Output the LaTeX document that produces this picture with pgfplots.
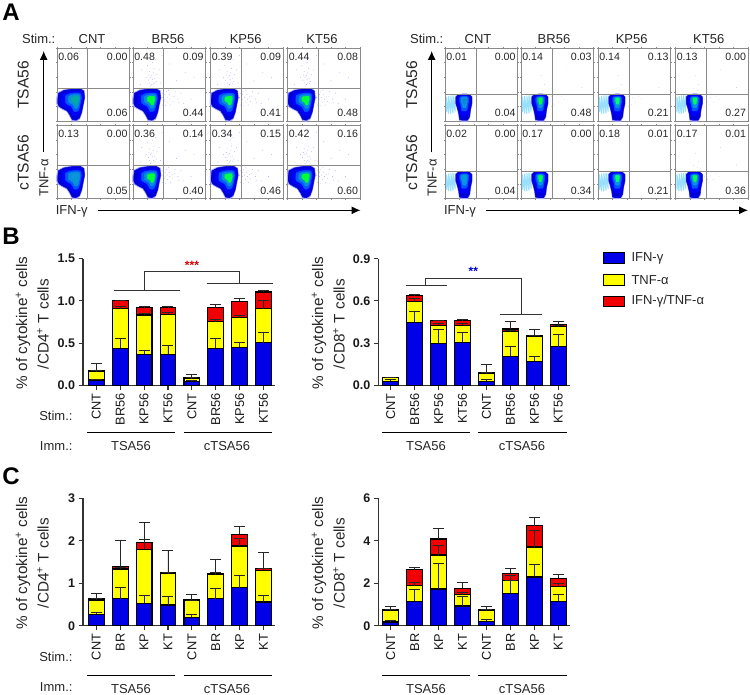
\documentclass[border=0pt]{standalone}
\usepackage{fontspec}
\setmainfont{Liberation Sans}
\usepackage{pgfplots}
\usepackage{pgfplotstable}
\usetikzlibrary{arrows.meta}
\pgfplotsset{compat=1.18}

\definecolor{barblue}{HTML}{0000E8}
\definecolor{baryellow}{HTML}{FFFF00}
\definecolor{barred}{HTML}{F00000}
\definecolor{axgray}{HTML}{333333}
\definecolor{flowgray}{HTML}{8A8A8A}

% cumulative bar tops (b,y,r) and error bar tops (be,ye,re)
\pgfplotstableread{
x b y r be ye re
0 .063 .170 .175 .075 .175 .257
1 .440 .910 1.00 .557 .930 1.01
2 .367 .833 .920 .415 .853 .940
3 .367 .840 .920 .478 .865 .940
4 .043 .083 .090 .060 .088 .130
5 .440 .754 .920 .557 .786 .963
6 .450 .800 .995 .505 .833 1.03
7 .505 .908 1.105 .632 1.01 1.12
}\tblBa
\pgfplotstableread{
x b y r be ye re
0 .030 .054 .057 .040 .057 .059
1 .449 .595 .638 .527 .617 .643
2 .298 .428 .458 .400 .437 .461
3 .305 .428 .458 .378 .440 .465
4 .030 .087 .090 .040 .089 .151
5 .208 .380 .400 .279 .392 .456
6 .170 .347 .357 .208 .352 .400
7 .274 .418 .430 .361 .425 .454
}\tblBb
\pgfplotstableread{
x b y r be ye re
0 .267 .605 .644 .322 .636 .754
1 .636 1.335 1.39 .911 1.375 2.00
2 .526 1.80 1.97 .707 2.02 2.435
3 .487 1.225 1.25 .691 1.257 1.767
4 .204 .589 .605 .259 .597 .730
5 .636 1.20 1.233 .880 1.25 1.57
6 .895 1.877 2.152 1.194 2.058 2.34
7 .558 1.304 1.35 .715 1.36 1.736
}\tblCa
\pgfplotstableread{
x b y r be ye re
0 .173 .707 .738 .236 .770 .927
1 1.147 1.885 2.64 1.712 2.03 2.75
2 1.728 3.33 4.083 2.937 3.80 4.586
3 .927 1.46 1.76 1.366 1.555 2.04
4 .204 .707 .738 .283 .754 .927
5 1.523 2.136 2.48 2.136 2.356 2.717
6 2.293 3.707 4.712 2.874 4.508 5.09
7 1.147 1.853 2.23 1.49 1.98 2.42
}\tblCb

% density contours of the flow plots
\pgfplotstableread{
x y
1 30
2 38
10 42
22 44
32 44
37 41
38 32
36 22
34 12
31 4
26 1
21 2
18 8
14 14
8 17
3 20
1 24
}\contourA
\pgfplotstableread{
x y
15 24
15 33
18 36
26 37
33 36.5
37 33
37 24
35 15
34 6
31 1
24 1
20 2
19 10
17 18
}\contourB
% sparse events, CD4 panels
\pgfplotstableread{
x y
24 48
28 52
21 56
30 58
26 62
33 64
23 68
29 72
20 76
27 80
31 84
25 88
18 60
36 70
42 44
46 40
50 36
44 30
54 33
48 26
58 40
62 30
41 22
52 22
66 38
70 24
60 55
72 66
50 78
84 60
80 30
12 70
10 50
40 90
90 85
26 50
23 52
30 51
27 57
24 60
28 66
32 54
22 63
41 38
44 36
47 32
43 27
51 30
45 21
55 27
40 32
57 34
49 42
63 25
38 52
}\eventsA
% sparse events, CD8 panels
\pgfplotstableread{
x y
40 30
44 26
48 32
52 26
42 20
56 34
60 30
25 45
32 50
28 62
62 70
84 46
14 85
42 34
46 22
30 42
}\eventsB

\newcommand{\fs}[1]{\fontsize{#1bp}{#1bp}\selectfont}

\newcommand{\contourlayer}[5]{% table, cx, scale, shift, colour
  \addplot[fill=#5,draw=#5,line width=.4pt,line join=round,forget plot]
    table[x expr={#2+#4+#3*(\thisrow{x}-#2)},y expr={30+#3*(\thisrow{y}-30)}]{#1} -- cycle;
}

\newcommand{\flowbase}[2]{% x, y
\begin{axis}[at={(#1bp,-#2bp)},anchor=north west,width=72.5bp,height=73bp,scale only axis,
  xmin=0,xmax=100,ymin=0,ymax=100,clip=false,
  axis line style={flowgray,line width=.7pt},
  xtick={0,20,40,60,80,100},ytick={0,20,40,60,80,100},
  xticklabels={},yticklabels={},tick align=outside,major tick length=1.2bp,
  tick style={flowgray,line width=.5pt}]
}

\newcommand{\flowrest}[5]{% UL, UR, LR, hline, vline
  \addplot[flowgray,line width=.8pt,forget plot] coordinates {(0,#4) (100,#4)};
  \addplot[flowgray,line width=.8pt,forget plot] coordinates {(#5,0) (#5,100)};
  \node[font=\fs{10.6},text=black!85] at (axis cs:16,88) {#1};
  \node[font=\fs{10.6},text=black!85] at (axis cs:83,88) {#2};
  \node[font=\fs{10.6},text=black!85] at (axis cs:83,11) {#3};
}

\newcommand{\flowA}[7]{% x, y, UL, UR, LR, inner colour, events
\flowbase{#1}{#2}
  \ifnum#7=1 \addplot[only marks,mark=*,mark size=.4bp,blue!40,draw opacity=0,forget plot] table {\eventsA}; \fi
  \contourlayer{\contourA}{27}{1.06}{0}{blue!35}
  \contourlayer{\contourA}{27}{1}{0}{blue!85!black}
  \contourlayer{\contourA}{27}{.78}{0}{blue}
  \contourlayer{\contourA}{27}{.60}{0}{blue!65!cyan}
  \contourlayer{\contourA}{27}{.44}{0}{cyan!75!blue}
  \contourlayer{\contourA}{27}{.28}{0}{#6}
  \flowrest{#3}{#4}{#5}{45}{42}
\end{axis}
}

\newcommand{\flowB}[7]{% x, y, UL, UR, LR, inner colour, events
\flowbase{#1}{#2}
  \ifnum#7=1 \addplot[only marks,mark=*,mark size=.35bp,blue!35,draw opacity=0,forget plot] table {\eventsB}; \fi
  \addplot[blue!30!cyan!40,line width=1.1pt,forget plot] coordinates {
    (2,12) (2,33) (3,nan) (5,10) (5,34) (6,nan) (8,10) (8,35) (9,nan) (11,11) (11,35) (12,nan) (14,13) (14,35)};
  \contourlayer{\contourB}{27}{1.05}{0}{blue!35}
  \contourlayer{\contourB}{27}{1}{0}{blue!85!black}
  \contourlayer{\contourB}{27}{.76}{0}{blue}
  \contourlayer{\contourB}{27}{.56}{0}{blue!65!cyan}
  \contourlayer{\contourB}{27}{.40}{0}{cyan!80!blue}
  \contourlayer{\contourB}{27}{.24}{0}{#6}
  \flowrest{#3}{#4}{#5}{37}{43}
\end{axis}
}

\newcommand{\stackpanel}[8]{% x, y0, width, height, table, ymax, ytick list, x limits/format
\begin{axis}[at={(#1bp,-#2bp)},anchor=south west,width=#3bp,height=#4bp,scale only axis,
  axis x line*=bottom,axis y line*=left,
  ymin=0,ymax=#6,ytick={#7},#8,
  xtick={0,...,7},
  tick align=outside,major tick length=4.5bp,
  axis line style={axgray,line width=1.1pt,-},tick style={axgray,line width=1.1pt},
  tick label style={text=black!90},
  yticklabel style={font=\fs{12.5}\bfseries,/pgf/number format/assume math mode=true},
  xticklabel style={font=\fs{12.8},rotate=90,anchor=east},
  ybar,bar width=15.8bp,bar shift=0pt,
  error bars/y dir=plus,error bars/y explicit,
  error bars/error bar style={black!85,line width=.9pt},
  error bars/error mark options={rotate=90,black!85,line width=.9pt,mark size=5.5bp},
  ]
  \addplot[fill=barred,draw=black,line width=1.1pt,forget plot]
    table[x=x,y=r,y error expr=\thisrow{re}-\thisrow{r}]{#5};
  \addplot[fill=baryellow,draw=black,line width=1.1pt,forget plot]
    table[x=x,y=y,y error expr=\thisrow{ye}-\thisrow{y}]{#5};
  \addplot[fill=barblue,draw=black,line width=1.1pt,forget plot]
    table[x=x,y=b,y error expr=\thisrow{be}-\thisrow{b}]{#5};
\end{axis}
}

\begin{document}
\begin{tikzpicture}[x=1bp,y=-1bp,font=\fs{13},text=black!85]
\path[use as bounding box] (0,0) rectangle (750,695);

% panel letters
\node[font=\fs{24}\bfseries,text=black] at (11,12) {A};
\node[font=\fs{24}\bfseries,text=black] at (11,236) {B};
\node[font=\fs{24}\bfseries,text=black] at (11,476) {C};

% A, CD4
\flowA{57}{48}{0.06}{0.00}{0.06}{cyan!55!green}{0}
\flowA{133}{48}{0.48}{0.09}{0.44}{green!80!cyan}{1}
\flowA{210.5}{48}{0.39}{0.09}{0.41}{green!70!cyan}{1}
\flowA{287.5}{48}{0.44}{0.08}{0.48}{green!80!cyan}{1}
\flowA{57}{125.5}{0.13}{0.00}{0.05}{cyan!80!blue}{0}
\flowA{133}{125.5}{0.36}{0.14}{0.40}{green!80!cyan}{1}
\flowA{210.5}{125.5}{0.34}{0.15}{0.46}{green!70!cyan}{1}
\flowA{287.5}{125.5}{0.42}{0.16}{0.60}{green!80!cyan}{1}
% A, CD8
\flowB{445}{48}{0.01}{0.00}{0.04}{cyan!70!blue}{0}
\flowB{521}{48}{0.14}{0.03}{0.48}{green!80!cyan}{1}
\flowB{598}{48}{0.14}{0.13}{0.21}{green!60!cyan}{1}
\flowB{675.5}{48}{0.13}{0.00}{0.27}{green!70!cyan}{1}
\flowB{445}{125.5}{0.02}{0.00}{0.04}{cyan!85!blue}{0}
\flowB{521}{125.5}{0.17}{0.00}{0.34}{green!70!cyan}{0}
\flowB{598}{125.5}{0.18}{0.01}{0.21}{green!60!cyan}{0}
\flowB{675.5}{125.5}{0.17}{0.01}{0.36}{green!70!cyan}{1}

\foreach \xx/\t in {38.7/Stim.:,92/CNT,168/BR56,245.7/KP56,322/KT56,426.7/Stim.:,478/CNT,554/BR56,631.7/KP56,708.7/KT56}
  \node at (\xx,39) {\t};
\foreach \xx in {23.3,411.7} {
  \node[rotate=90,font=\fs{15.6}] at (\xx,85) {TSA56};
  \node[rotate=90,font=\fs{15.6}] at (\xx,162.7) {cTSA56};
}
\node[rotate=90] at (44,178) {TNF-α};
\node[rotate=90] at (432.3,178) {TNF-α};
\node at (71.7,211.5) {IFN-γ};
\node at (460,211.5) {IFN-γ};
\foreach \xx in {43.7,431.7}
  \draw[-{Latex[length=9bp,width=8bp]},black,line width=1pt] (\xx,151.7) -- (\xx,51);
\draw[-{Latex[length=9bp,width=8bp]},black,line width=1pt] (98.3,210.3) -- (360.5,210.3);
\draw[-{Latex[length=9bp,width=8bp]},black,line width=1pt] (486,210.3) -- (748,210.3);

% B and C bars
\stackpanel{83}{385.3}{192}{126.6}{\tblBa}{1.5}{0,0.5,1,1.5}{xmin=-.556,xmax=7.48,xticklabels={CNT,BR56,KP56,KT56,CNT,BR56,KP56,KT56},yticklabel={\pgfmathprintnumber[fixed,fixed zerofill,precision=1]{\tick}}}
\stackpanel{378.3}{385.3}{191.7}{126.6}{\tblBb}{.9}{0,0.3,0.6,0.9}{xmin=-.52,xmax=7.49,xticklabels={CNT,BR56,KP56,KT56,CNT,BR56,KP56,KT56},yticklabel={\pgfmathprintnumber[fixed,fixed zerofill,precision=1]{\tick}}}
\stackpanel{83}{625.7}{192}{127.4}{\tblCa}{3}{0,1,2,3}{xmin=-.556,xmax=7.48,xticklabels={CNT,BR,KP,KT,CNT,BR,KP,KT}}
\stackpanel{378.3}{625.7}{191.7}{127.4}{\tblCb}{6}{0,2,4,6}{xmin=-.52,xmax=7.49,xticklabels={CNT,BR,KP,KT,CNT,BR,KP,KT}}

% y titles
\foreach \xx/\t in {23/CD4,319/CD8} {
  \pgfmathsetmacro{\xb}{\xx+20}
  \node[rotate=90,font=\fs{15.3}] at (\xx,323) {\% of cytokine\textsuperscript{+} cells};
  \node[rotate=90,font=\fs{15.3}] at (\xb,324) {/\t\textsuperscript{+} T cells};
  \node[rotate=90,font=\fs{15.3}] at (\xx,563) {\% of cytokine\textsuperscript{+} cells};
  \node[rotate=90,font=\fs{15.3}] at (\xb,563) {/\t\textsuperscript{+} T cells};
}

% stim and imm rows
\node[anchor=east] at (76,416) {Stim.:};
\node[anchor=east] at (76,446) {Imm.:};
\node[anchor=east] at (76,657) {Stim.:};
\node[anchor=east] at (76,687) {Imm.:};
\foreach \yy/\yt in {432/446,675.3/688.7} {
  \draw[black,line width=.9pt] (87,\yy) -- (174.7,\yy);
  \draw[black,line width=.9pt] (183.5,\yy) -- (271.5,\yy);
  \draw[black,line width=.9pt] (382,\yy) -- (470,\yy);
  \draw[black,line width=.9pt] (478.3,\yy) -- (566.5,\yy);
  \node at (131,\yt) {TSA56};
  \node at (227,\yt) {cTSA56};
  \node at (426,\yt) {TSA56};
  \node at (522,\yt) {cTSA56};
}

% significance brackets
\draw[axgray,line width=.9pt] (144,290.7) -- (144,271.7) -- (239.3,271.7) -- (239.3,283.3);
\draw[axgray,line width=.9pt] (114,290.7) -- (180,290.7);
\draw[axgray,line width=.9pt] (206.7,283.3) -- (272.7,283.3);
\node[text=red!85!black,font=\fs{12}\bfseries] at (192,265.5) {***};
\draw[axgray,line width=.9pt] (425.7,285.7) -- (425.7,278.3) -- (521.7,278.3) -- (521.7,314.3);
\draw[axgray,line width=.9pt] (405.7,285.7) -- (446.7,285.7);
\draw[axgray,line width=.9pt] (500,314.3) -- (541.7,314.3);
\node[text=blue!85!black,font=\fs{12}\bfseries] at (473.3,271.5) {**};

% legend
\foreach \yy/\c in {252.5/barblue,274.3/baryellow,296/barred} {
  \draw[fill=\c,draw=black,line width=1pt] (603,\yy) rectangle ++(21,10.7);
}
\node[anchor=west] at (628,258) {IFN-γ};
\node[anchor=west] at (628,279.6) {TNF-α};
\node[anchor=west] at (628,301.3) {IFN-γ/TNF-α};
\end{tikzpicture}
\end{document}
